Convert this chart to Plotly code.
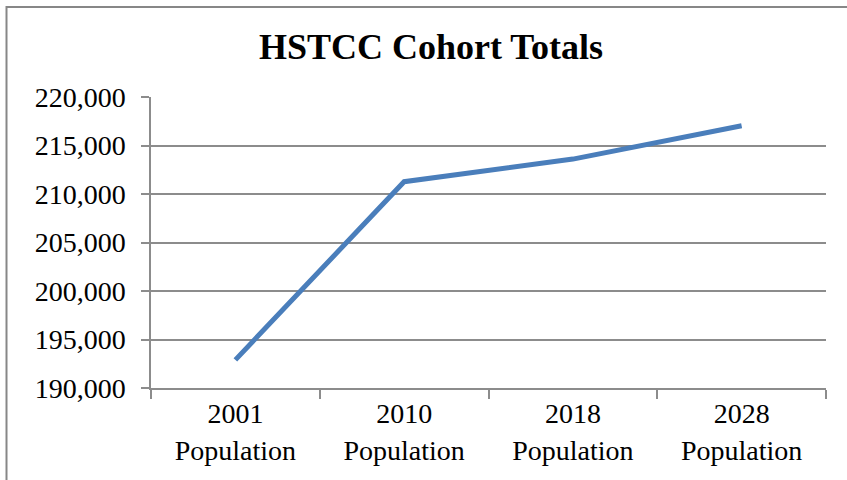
import plotly.graph_objects as go

categories = ["2001<br>Population", "2010<br>Population", "2018<br>Population", "2028<br>Population"]
values = [192900, 211270, 213600, 217030]
y_ticks = [190000, 195000, 200000, 205000, 210000, 215000, 220000]
title_text = "HSTCC Cohort Totals"

W, H = 847, 480
L, R, T, B = 151, 21, 97, 92
pw, ph = W - L - R, H - T - B

def px_x(px):
    return (px - L) / pw

def px_y(py):
    return (H - B - py) / ph

fig = go.Figure()
fig.add_trace(go.Scatter(
    x=categories, y=values, mode="lines",
    line=dict(color="#4A7EBB", width=5),
    hoverinfo="skip", showlegend=False,
))

grid_col = "#8C8C8C"
fig.update_layout(
    width=W, height=H,
    margin=dict(l=L, r=R, t=T, b=B, autoexpand=False),
    paper_bgcolor="white", plot_bgcolor="white",
    title=dict(text="<b>" + title_text + "</b>", x=431 / W, xanchor="center",
               y=1 - 46 / H, yanchor="middle",
               font=dict(family="Liberation Serif", size=36, color="black")),
    font=dict(family="Liberation Serif", size=28, color="black"),
    xaxis=dict(
        type="category", range=[-0.5, 3.5], tickson="boundaries",
        ticks="outside", ticklen=9,
        tickcolor=grid_col, tickwidth=1.5,
        showline=True, linecolor=grid_col, linewidth=1.5,
        showgrid=False, zeroline=False, automargin=False,
        tickfont=dict(family="Liberation Serif", size=28, color="black"),
        ticklabelstandoff=0,
    ),
    yaxis=dict(
        range=[190000, 220000], tickvals=y_ticks, tickformat=",",
        ticks="outside", ticklen=8, tickcolor=grid_col, tickwidth=1.5,
        showline=True, linecolor=grid_col, linewidth=1.5,
        showgrid=True, gridcolor=grid_col, gridwidth=1.5, zeroline=False,
        automargin=False,
        tickfont=dict(family="Liberation Serif", size=28, color="black"),
        ticklabelstandoff=10,
    ),
    shapes=[dict(
        type="rect", xref="paper", yref="paper",
        x0=px_x(6.5), x1=px_x(860), y0=px_y(490), y1=px_y(7),
        line=dict(color="#878787", width=2), fillcolor="rgba(0,0,0,0)",
        layer="below",
    )],
)

fig.write_html("out.html")
